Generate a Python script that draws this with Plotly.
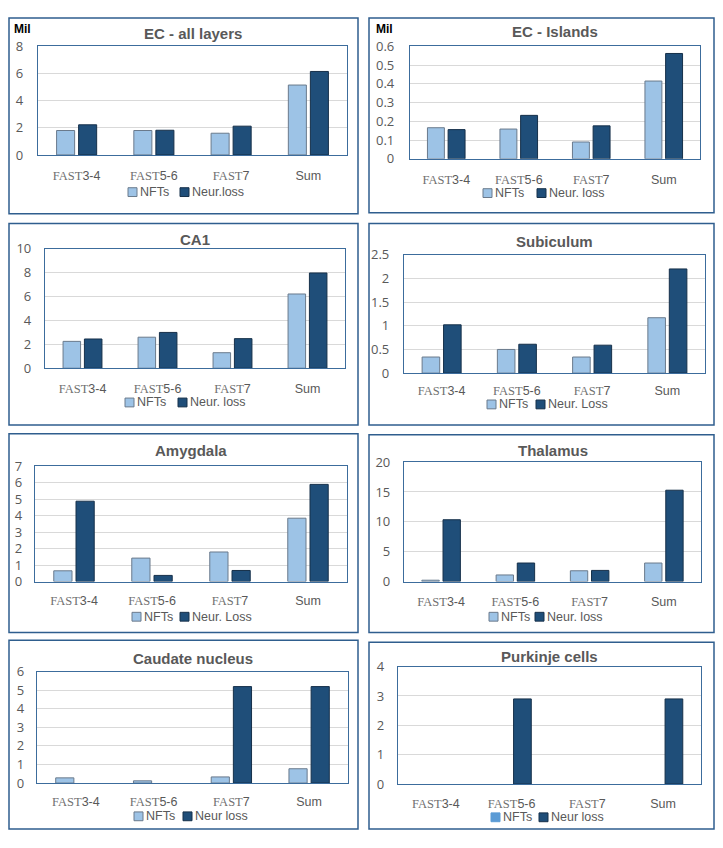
import plotly.graph_objects as go

# ---------------- data ----------------
categories = ["FAST 3-4", "FAST 5-6", "FAST 7", "Sum"]
tick_serif = ["FAST", "FAST", "FAST", ""]
tick_sans = ["3-4", "5-6", "7", "Sum"]

titles = ["EC - all layers", "EC - Islands", "CA1", "Subiculum",
          "Amygdala", "Thalamus", "Caudate nucleus", "Purkinje cells"]

nfts_ec_all = [1.8, 1.8, 1.6, 5.15]
neur_ec_all = [2.22, 1.82, 2.12, 6.15]
nfts_ec_isl = [0.166, 0.159, 0.09, 0.415]
neur_ec_isl = [0.156, 0.232, 0.176, 0.562]
nfts_ca1 = [2.25, 2.6, 1.3, 6.22]
neur_ca1 = [2.45, 3.0, 2.48, 7.98]
nfts_sub = [0.34, 0.5, 0.34, 1.17]
neur_sub = [1.02, 0.61, 0.59, 2.2]
nfts_amy = [0.65, 1.42, 1.79, 3.84]
neur_amy = [4.87, 0.37, 0.67, 5.89]
nfts_tha = [0.22, 1.1, 1.8, 3.1]
neur_tha = [10.35, 3.1, 1.86, 15.3]
nfts_cau = [0.28, 0.12, 0.33, 0.77]
neur_cau = [0, 0, 5.19, 5.19]
nfts_pur = [0, 0, 0, 0]
neur_pur = [0, 2.9, 0, 2.9]

nfts_series = [nfts_ec_all, nfts_ec_isl, nfts_ca1, nfts_sub,
               nfts_amy, nfts_tha, nfts_cau, nfts_pur]
neur_series = [neur_ec_all, neur_ec_isl, neur_ca1, neur_sub,
               neur_amy, neur_tha, neur_cau, neur_pur]

legend_nft = "NFTs"
legend_neur = ["Neur.loss", "Neur. loss", "Neur. loss", "Neur. Loss",
               "Neur. Loss", "Neur. loss", "Neur loss", "Neur loss"]

y_max = [8, 0.6, 10, 2.5, 7, 20, 6, 4]
y_step = [2, 0.1, 2, 0.5, 1, 5, 1, 1]
unit_label = ["Mil", "Mil", "", "", "", "", "", ""]

# ---------------- layout geometry (page pixels) ----------------
PAGE_W, PAGE_H = 723, 848
OFF = 8                      # default body margin of the html page
W, H = PAGE_W - 2 * OFF, PAGE_H - 2 * OFF   # figure fits the window exactly

geom = [
    dict(box=(7, 6, 358, 209), plot=(38, 38, 347, 149), title_y=25, cat_y=168, leg_y=187, leg_x=(128, 180), ygap=14),
    dict(box=(369, 6, 716, 208), plot=(410, 38, 700, 153), title_y=23, cat_y=172, leg_y=188, leg_x=(483, 537), ygap=15),
    dict(box=(7, 219, 358, 425), plot=(45, 245, 345, 367), title_y=235, cat_y=386, leg_y=402, leg_x=(125, 178), ygap=13),
    dict(box=(369, 219, 715, 425), plot=(404, 251, 705, 372), title_y=237, cat_y=388, leg_y=404, leg_x=(487, 536), ygap=14),
    dict(box=(7, 434, 358, 637), plot=(35, 467, 347, 585), title_y=451, cat_y=602, leg_y=621, leg_x=(132, 180), ygap=12),
    dict(box=(369, 435, 716, 637), plot=(404, 463, 701, 585), title_y=451, cat_y=603, leg_y=621, leg_x=(489, 535), ygap=13),
    dict(box=(7, 645, 358, 838), plot=(37, 677, 348, 791), title_y=664, cat_y=808, leg_y=825, leg_x=(134, 183), ygap=12),
    dict(box=(369, 647, 716, 838), plot=(398, 672, 701, 792), title_y=662, cat_y=810, leg_y=826, leg_x=(491, 539), ygap=13),
]

def px(x):
    x = min(max(x, OFF + 1), OFF + W - 1)
    return (x - OFF) / W

def py(y):
    y = min(max(y, OFF + 1), OFF + H - 1)
    return 1 - (y - OFF) / H

NFT_FILL = "#9DC3E6"
NFT_LINE = "#6A7A8C"
NEUR_FILL = "#1F4E79"
NEUR_LINE = "#16304A"
FRAME = "#2F5E8E"
AXIS_BOX = "#3C6C9C"
GRID = "#D9D9D9"
TXT = "#595959"
SANS = "Open Sans, Liberation Sans, sans-serif"
LAB = "Liberation Sans, Arial, sans-serif"

ticktext = []
for s, n in zip(tick_serif, tick_sans):
    if s:
        ticktext.append(f"<span style=\"font-family:'Liberation Serif',serif;fill:#707070\">{s}</span>{n}")
    else:
        ticktext.append(n)

fig = go.Figure()
shapes = []
annotations = []
layout_axes = {}

for i, g in enumerate(geom):
    n = "" if i == 0 else str(i + 1)
    xref, yref = "x" + n, "y" + n
    fig.add_trace(go.Bar(
        x=categories, y=nfts_series[i], name=legend_nft,
        xaxis=xref, yaxis=yref, showlegend=False,
        marker=dict(color=NFT_FILL,
                    line=dict(color=NFT_LINE, width=[1 if v else 0 for v in nfts_series[i]])),
    ))
    fig.add_trace(go.Bar(
        x=categories, y=neur_series[i], name=legend_neur[i],
        xaxis=xref, yaxis=yref, showlegend=False,
        marker=dict(color=NEUR_FILL,
                    line=dict(color=NEUR_LINE, width=[1 if v else 0 for v in neur_series[i]])),
    ))
    l, t, r, b = g["plot"]
    layout_axes["xaxis" + n] = dict(
        domain=[px(l), px(r)], anchor=yref,
        type="category", categoryorder="array", categoryarray=categories,
        tickvals=categories, ticktext=ticktext,
        tickfont=dict(family=LAB, size=12.5, color=TXT),
        showgrid=False, showline=True, mirror=True, linecolor=AXIS_BOX, linewidth=1.3,
        ticks="", ticklabelstandoff=max(0, g["cat_y"] - b - 10), fixedrange=True,
    )
    layout_axes["yaxis" + n] = dict(
        domain=[py(b), py(t)], anchor=xref,
        range=[0, y_max[i]], dtick=y_step[i], tick0=0,
        tickfont=dict(family=SANS, size=13, color=TXT),
        showgrid=True, gridcolor=GRID, gridwidth=1,
        showline=True, mirror=True, linecolor=AXIS_BOX, linewidth=1.3,
        zeroline=False, ticks="", ticklabelstandoff=max(0, g["ygap"] - 3),
        fixedrange=True,
    )
    bx0, by0, bx1, by1 = g["box"]
    shapes.append(dict(type="rect", xref="paper", yref="paper",
                       x0=px(bx0), x1=px(bx1), y0=py(by1), y1=py(by0),
                       line=dict(color=FRAME, width=1.5), layer="above"))
    annotations.append(dict(
        text=f"<b>{titles[i]}</b>", xref="paper", yref="paper",
        x=px((l + r) / 2), y=py(g["title_y"]), xanchor="center", yanchor="middle",
        showarrow=False, font=dict(family="Liberation Sans, Arial", size=15, color=TXT)))
    if unit_label[i]:
        annotations.append(dict(
            text=f"<b>{unit_label[i]}</b>", xref="paper", yref="paper",
            x=px(bx0 + 5), y=py(20), xanchor="left", yanchor="middle",
            showarrow=False, font=dict(family="Liberation Sans, Arial", size=12, color="#000000")))
    ly = g["leg_y"]
    sq = 9
    nft_leg_fill = NFT_FILL if i < 7 else "#5B9BD5"
    nft_leg_line = NFT_LINE if i < 7 else "#5B9BD5"
    items = [(g["leg_x"][0], nft_leg_fill, nft_leg_line, legend_nft),
             (g["leg_x"][1], NEUR_FILL, NEUR_LINE, legend_neur[i])]
    for x0, fill, lc, label in items:
        shapes.append(dict(type="rect", xref="paper", yref="paper",
                           x0=px(x0), x1=px(x0 + sq), y0=py(ly + sq / 2), y1=py(ly - sq / 2),
                           fillcolor=fill, line=dict(color=lc, width=1)))
        annotations.append(dict(
            text=label, xref="paper", yref="paper",
            x=px(x0 + sq + 1), y=py(ly), xanchor="left", yanchor="middle",
            showarrow=False, font=dict(family=LAB, size=12.5, color=TXT)))

fig.update_layout(
    width=W, height=H, margin=dict(l=0, r=0, t=0, b=0),
    paper_bgcolor="white", plot_bgcolor="white",
    barmode="group", bargap=0.43, bargroupgap=0.18,
    shapes=shapes, annotations=annotations, showlegend=False,
    **layout_axes,
)

fig.write_html("out.html", config={"displayModeBar": False})
